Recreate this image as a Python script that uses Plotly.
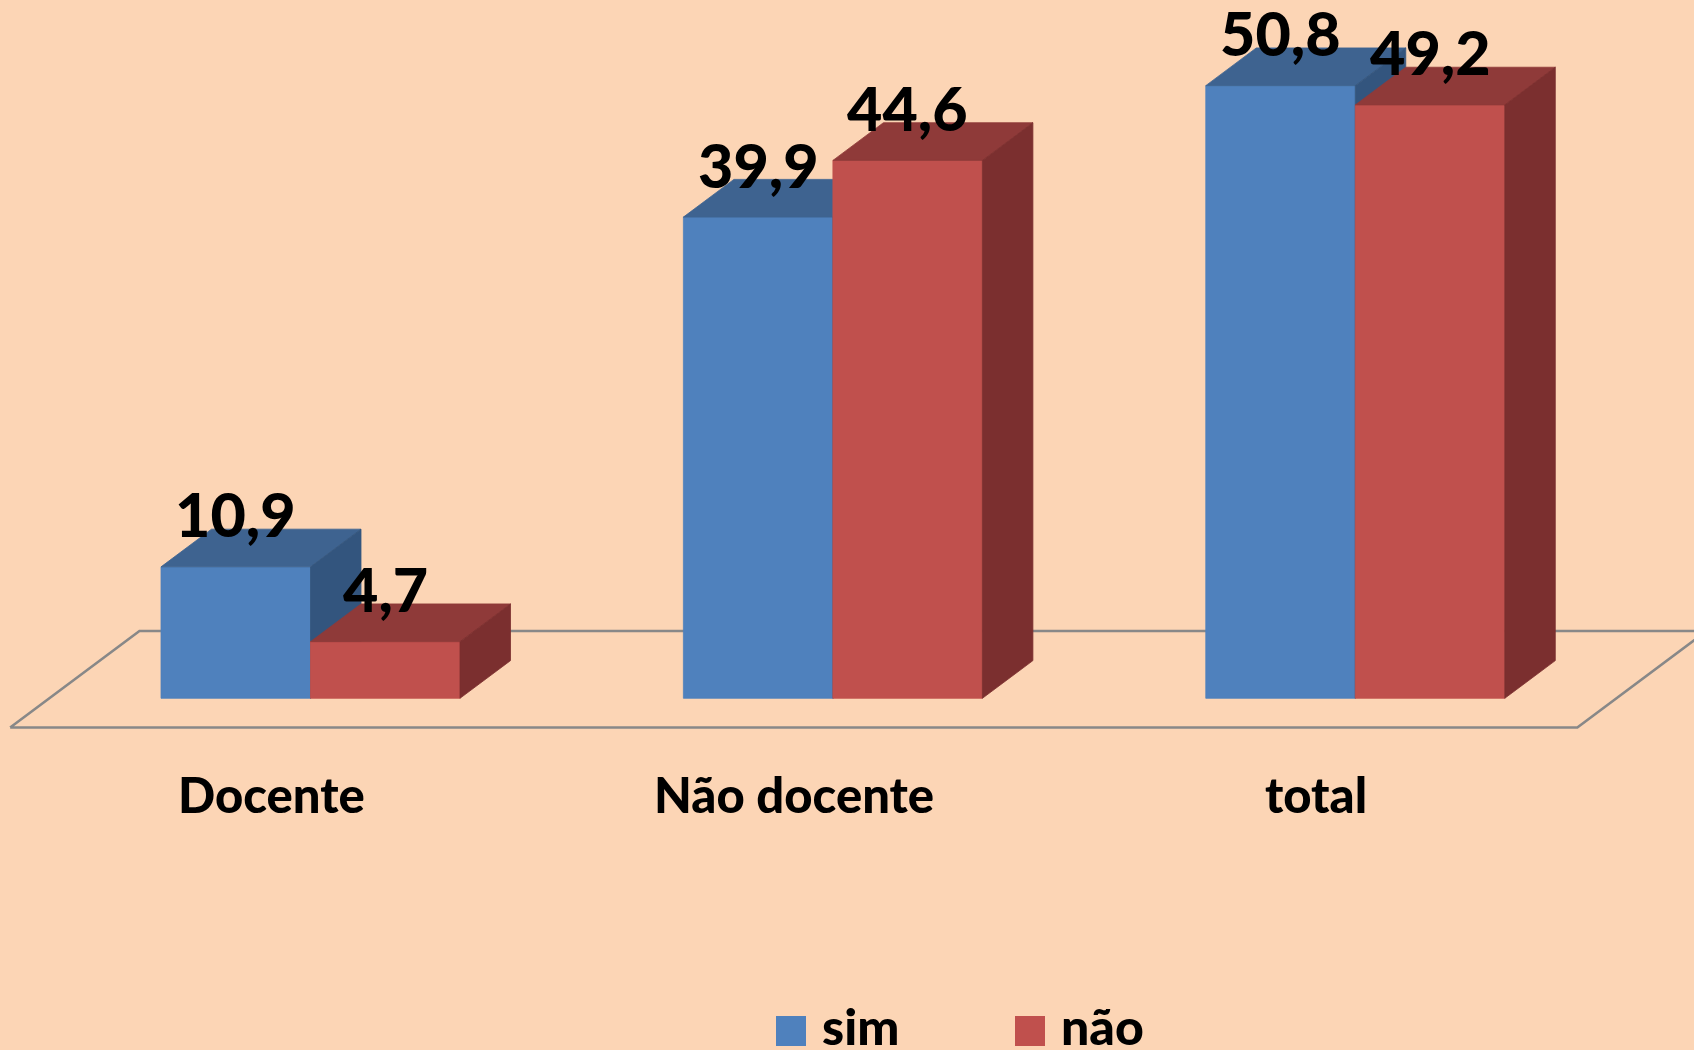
import plotly.graph_objects as go

# ---- data ----
categories = ["Docente", "Não docente", "total"]
sim = [10.9, 39.9, 50.8]
nao = [4.7, 44.6, 49.2]
series_names = ["sim", "não"]

# ---- styles / geometry ----
W, H = 1694, 1050
BG = "#FCD5B5"
FRONT = ["#4F81BD", "#C0504D"]
TOP = ["#3E6390", "#8F3A39"]
SIDE = ["#33557E", "#7B2F2F"]
FLOOR = "#888888"
BAR_W = 0.2862            # bar width in category units
DU, DV = 0.09667, 3.126   # oblique offset for one bar depth (x units, value units)
Z_FRONT, Z_BACK = -0.775, 1.785  # floor extent in bar-depth units
X_RANGE = [-0.5944, 2.6484]
Y_RANGE = [-29.16, 57.90]
FONT = "Lato"
WEIGHT = 900


def fmt(v):
    return f"{v:.1f}".replace(".", ",")


fig = go.Figure()


def poly(pts, color, name):
    xs = [p[0] for p in pts] + [pts[0][0]]
    ys = [p[1] for p in pts] + [pts[0][1]]
    fig.add_trace(go.Scatter(
        x=xs, y=ys, mode="lines", fill="toself", fillcolor=color,
        line=dict(color=color, width=0.8), hoverinfo="skip",
        showlegend=False, name=name))


# floor (at value 0)
n = len(categories)
fl = [(-0.5 + Z_FRONT * DU, Z_FRONT * DV), (n - 0.5 + Z_FRONT * DU, Z_FRONT * DV),
      (n - 0.5 + Z_BACK * DU, Z_BACK * DV), (-0.5 + Z_BACK * DU, Z_BACK * DV)]
fig.add_trace(go.Scatter(
    x=[p[0] for p in fl] + [fl[0][0]], y=[p[1] for p in fl] + [fl[0][1]],
    mode="lines", line=dict(color=FLOOR, width=2.6), hoverinfo="skip",
    showlegend=False))

# bars
series = [sim, nao]
for i, cat in enumerate(categories):
    for s, vals in enumerate(series):
        h = vals[i]
        x0 = i - BAR_W + s * BAR_W
        x1 = x0 + BAR_W
        poly([(x0, 0), (x1, 0), (x1, h), (x0, h)], FRONT[s], series_names[s])
        poly([(x0, h), (x1, h), (x1 + DU, h + DV), (x0 + DU, h + DV)], TOP[s], series_names[s])
        poly([(x1, 0), (x1 + DU, DV), (x1 + DU, h + DV), (x1, h)], SIDE[s], series_names[s])
        fig.add_annotation(
            x=(x0 + x1) / 2, y=h + 4.4, text=fmt(h), showarrow=False,
            xanchor="center", yanchor="middle",
            font=dict(family=FONT, size=61, color="black", weight=WEIGHT))

# category labels on the floor's front edge
for i, cat in enumerate(categories):
    fig.add_annotation(
        x=i + Z_FRONT * DU, y=-7.95, text=cat, showarrow=False,
        xanchor="center", yanchor="middle",
        font=dict(family=FONT, size=49, color="black", weight=WEIGHT))

# legend
leg_sq = [(776, 806), (1015, 1045)]
leg_tx = [820, 1059]
for s, name in enumerate(series_names):
    fig.add_shape(type="rect", xref="paper", yref="paper",
                  x0=leg_sq[s][0] / W, x1=leg_sq[s][1] / W,
                  y0=1 - 1046 / H, y1=1 - 1016 / H,
                  fillcolor=FRONT[s], line=dict(width=0))
    fig.add_annotation(
        xref="paper", yref="paper", x=leg_tx[s] / W, y=1 - 1026 / H,
        text=name, showarrow=False, xanchor="left", yanchor="middle",
        font=dict(family=FONT, size=50, color="black", weight=WEIGHT))

fig.update_layout(
    width=W, height=H, margin=dict(l=0, r=0, t=0, b=0),
    paper_bgcolor=BG, plot_bgcolor=BG, showlegend=False,
    xaxis=dict(range=X_RANGE, visible=False, fixedrange=True),
    yaxis=dict(range=Y_RANGE, visible=False, fixedrange=True),
)

fig.write_html(
    "out.html",
    config={"displayModeBar": False, "staticPlot": True},
    post_script="document.body.style.margin='0';document.body.style.overflow='hidden';",
)
